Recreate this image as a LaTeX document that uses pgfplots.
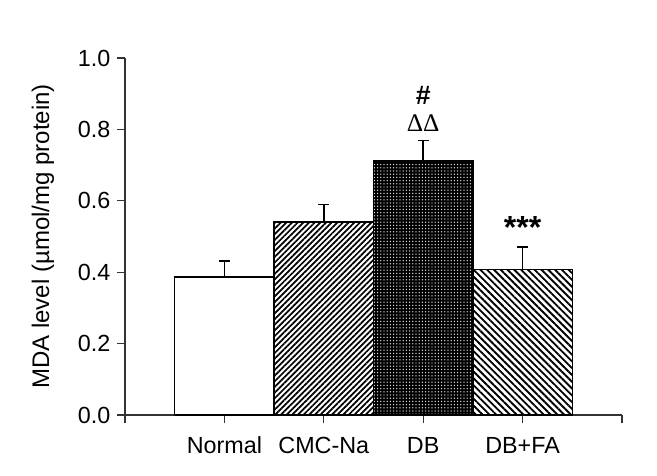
\documentclass[border=0pt]{standalone}
\usepackage{pgfplots}
\pgfplotsset{compat=1.18}
\usetikzlibrary{patterns.meta}
\usepackage{fontspec}
\setmainfont{Liberation Sans}
\newfontfamily\seriffont{Liberation Serif}
\newcommand\f{\fontsize{17.5}{20}\selectfont}
\begin{document}
\begin{tikzpicture}
\begin{axis}[
  at={(0,0)}, anchor=south west,
  scale only axis, width=372.75pt, height=267.75pt,
  xmin=0, xmax=5, ymin=0, ymax=1,
  axis lines*=left,
  axis line style={line width=0.9pt, black!80},
  tick align=outside,
  major tick length=6pt,
  tick style={line width=0.8pt, black!80},
  xtick={0,1,2,3,4,5},
  xticklabels={,Normal,CMC-Na,DB,DB+FA,},
  xticklabel style={yshift=-7pt},
  ytick={0,0.2,0.4,0.6,0.8,1.0},
  yticklabel style={xshift=-1.5pt, /pgf/number format/fixed, /pgf/number format/precision=1, /pgf/number format/fixed zerofill},
  /pgf/number format/assume math mode=true,
  tick label style={font=\f},
  every axis y label/.style={at={(axis description cs:0,0.5)}, rotate=90, anchor=center, yshift=61.5pt, font=\fontsize{18}{21}\selectfont},
  ylabel={MDA level (µmol/mg protein)},
  clip=false,
]
\addplot[ybar, bar width=1, bar shift=0, draw=black, line width=1.1pt, fill=white,
  error bars/.cd, y dir=plus, y explicit, error mark options={rotate=90, mark size=4pt, line width=1.3pt}, error bar style={line width=1.3pt}]
  coordinates {(1,0.387) +- (0,0.045)};
\addplot[ybar, bar width=1, bar shift=0, draw=black, line width=1.1pt, fill=white,
  pattern={Lines[angle=45,distance=3pt,line width=1.3pt]}, pattern color=black,
  error bars/.cd, y dir=plus, y explicit, error mark options={rotate=90, mark size=4pt, line width=1.3pt}, error bar style={line width=1.3pt}]
  coordinates {(2,0.540) +- (0,0.050)};
\addplot[ybar, bar width=1, bar shift=0, draw=black, line width=1.1pt, fill=black,
  postaction={pattern={Dots[radius=0.55pt,distance=2.4pt]}, pattern color=white!85!black},
  error bars/.cd, y dir=plus, y explicit, error mark options={rotate=90, mark size=4pt, line width=1.3pt}, error bar style={line width=1.3pt}]
  coordinates {(3,0.711) +- (0,0.058)};
\addplot[ybar, bar width=1, bar shift=0, draw=black, line width=1.1pt, fill=white,
  pattern={Lines[angle=-45,distance=3.6pt,line width=1.4pt]}, pattern color=black,
  error bars/.cd, y dir=plus, y explicit, error mark options={rotate=90, mark size=4pt, line width=1.3pt}, error bar style={line width=1.3pt}]
  coordinates {(4,0.408) +- (0,0.063)};
\node[font=\fontsize{20}{22}\selectfont\bfseries] at (axis cs:3,0.896) {\#};
\node[font=\fontsize{19}{21}\selectfont\seriffont] at (axis cs:3,0.818) {ΔΔ};
\node[font=\fontsize{24}{26}\selectfont\bfseries] at (axis cs:4,0.525) {***};
\end{axis}
\pgfresetboundingbox
\path[use as bounding box] (-93.75pt,-45pt) rectangle (399pt,311.25pt);
\end{tikzpicture}
\end{document}
